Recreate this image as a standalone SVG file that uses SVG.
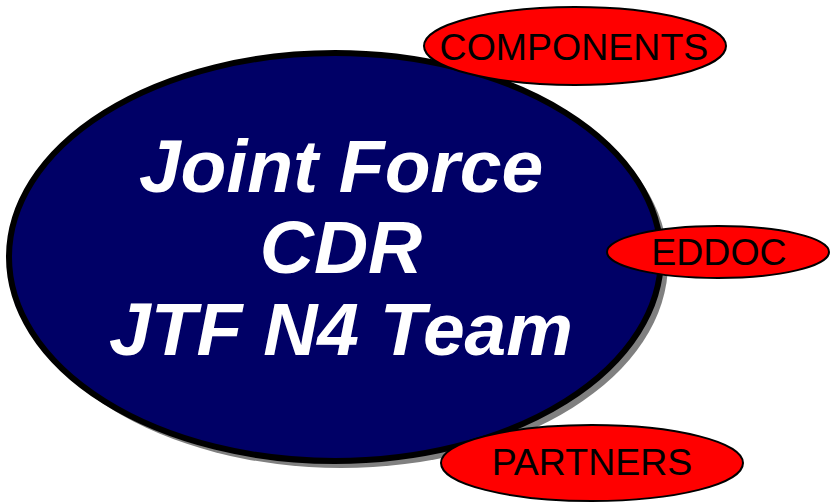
<svg xmlns="http://www.w3.org/2000/svg" width="834" height="504" viewBox="0 0 834 504">
<style>
.main{font-family:"Liberation Sans",Arial,sans-serif;font-weight:bold;font-style:italic;font-size:75px;fill:#fff;text-anchor:middle}
.lbl{font-family:"Liberation Sans",Arial,sans-serif;font-size:37.5px;fill:#000;text-anchor:middle}
.red{fill:#ff0000;stroke:#000;stroke-width:2}
</style>
<rect width="834" height="504" fill="#fff"/>
<g id="center">
<ellipse cx="341" cy="263" rx="327" ry="205" fill="#808080"/>
<ellipse cx="335" cy="257" rx="326" ry="204" fill="#000066" stroke="#000" stroke-width="6"/>
<text class="main" x="341" y="192">Joint Force</text>
<text class="main" x="341" y="273">CDR</text>
<text class="main" x="341" y="355">JTF N4 Team</text>
</g>
<g id="components">
<ellipse class="red" cx="575" cy="46" rx="151" ry="39"/>
<text class="lbl" x="574" y="60">COMPONENTS</text>
</g>
<g id="eddoc">
<ellipse class="red" cx="718" cy="252" rx="111" ry="26"/>
<text class="lbl" x="719" y="265">EDDOC</text>
</g>
<g id="partners">
<ellipse class="red" cx="592" cy="463" rx="151" ry="38"/>
<text class="lbl" x="592" y="475">PARTNERS</text>
</g>
<g id="connectors"></g>
</svg>
